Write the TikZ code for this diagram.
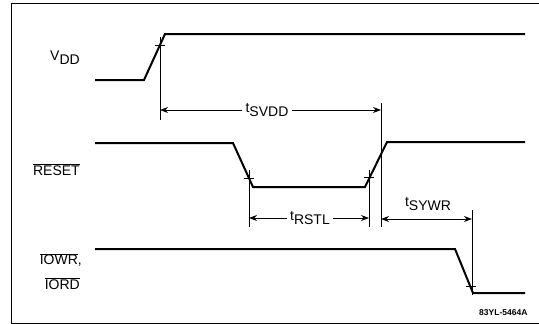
\documentclass[tikz,border=0pt]{standalone}
\usepackage{fontspec}
\setmainfont{Liberation Sans}
\usetikzlibrary{arrows.meta}
\tikzset{
  sig/.style={line width=2pt, line join=miter},
  dim/.style={line width=1pt},
  arr/.style={dim, -{Stealth[length=8pt,width=6pt]}},
  lbl/.style={inner sep=0pt, font=\fontsize{14}{16}\selectfont},
  frame/.style={line width=0.8pt}
}
\newcommand{\ovl}[1]{$\overline{\mbox{#1}}$}
\begin{document}
\begin{tikzpicture}[x=1pt,y=-1pt]
\useasboundingbox (0,0) rectangle (539,324);
% frame
\draw[frame] (11,324) -- (11,3) -- (545,3);
\draw[frame] (11,323) -- (545,323);

% VDD waveform
\coordinate (v0) at (95,80);
\coordinate (v1) at (144,80);
\coordinate (v2) at (165,34);
\coordinate (v3) at (525,34);
\draw[sig] (v0) -- (v1) -- (v2) -- (v3);

% RESET waveform
\coordinate (r0) at (95,143);
\coordinate (r1) at (233,143);
\coordinate (r2) at (253,187);
\coordinate (r3) at (365,187);
\coordinate (r4) at (387,142);
\coordinate (r5) at (525,142);
\draw[sig] (r0) -- (r1) -- (r2) -- (r3) -- (r4) -- (r5);

% IOWR waveform
\coordinate (w0) at (95,249);
\coordinate (w1) at (455,249);
\coordinate (w2) at (473,293);
\coordinate (w3) at (525,293);
\draw[sig] (w0) -- (w1) -- (w2) -- (w3);

% signal labels
\node[lbl, anchor=east] (lvdd) at (80,58) {V\raisebox{-4pt}{DD}};
\node[lbl, anchor=east] (lres) at (80,170) {\ovl{RESET}};
\node[lbl, anchor=east] (liow) at (82,260) {\ovl{IOWR},};
\node[lbl, anchor=east] (lior) at (80,284) {\ovl{IORD}};

% reference lines
\coordinate (a1) at (160,37);  \coordinate (a2) at (160,120);
\coordinate (b1) at (381,103); \coordinate (b2) at (381,227);
\coordinate (c1) at (249,170); \coordinate (c2) at (249,227);
\coordinate (d1) at (369,170); \coordinate (d2) at (369,227);
\coordinate (e1) at (472,210); \coordinate (e2) at (472,295);
\foreach \p in {a,b,c,d,e} \draw[dim] (\p1) -- (\p2);

% ticks
\coordinate (ta) at (160,45);
\coordinate (tc) at (249,178);
\coordinate (td) at (369,177);
\coordinate (te) at (471,286);
\foreach \t in {ta,tc,td,te} \draw[dim] ([xshift=-5pt]\t) -- ([xshift=5pt]\t);

% t_SVDD
\node[lbl] (tsvdd) at (267,110) {\raisebox{4pt}{t}SVDD};
\coordinate (s1) at (160,110);
\coordinate (s2) at (381,110);
\draw[arr] (tsvdd.west) ++(-3,0) -- (s1);
\draw[arr] (tsvdd.east) ++(3,0) -- (s2);

% t_RSTL
\node[lbl] (trstl) at (310,218) {\raisebox{4pt}{t}RSTL};
\coordinate (q1) at (249,218);
\coordinate (q2) at (369,218);
\draw[arr] (trstl.west) ++(-3,0) -- (q1);
\draw[arr] (trstl.east) ++(3,0) -- (q2);

% t_SYWR
\node[lbl] (tsywr) at (428,204) {\raisebox{4pt}{t}SYWR};
\coordinate (y1) at (381,219);
\coordinate (y2) at (472,219);
\draw[dim, {Stealth[length=8pt,width=6pt]}-{Stealth[length=8pt,width=6pt]}] (y1) -- (y2);

% figure code
\node[inner sep=0pt, anchor=west, font=\fontsize{8.5}{10}\selectfont\bfseries] (code) at (479,313) {83YL-5464A};
\end{tikzpicture}
\end{document}
